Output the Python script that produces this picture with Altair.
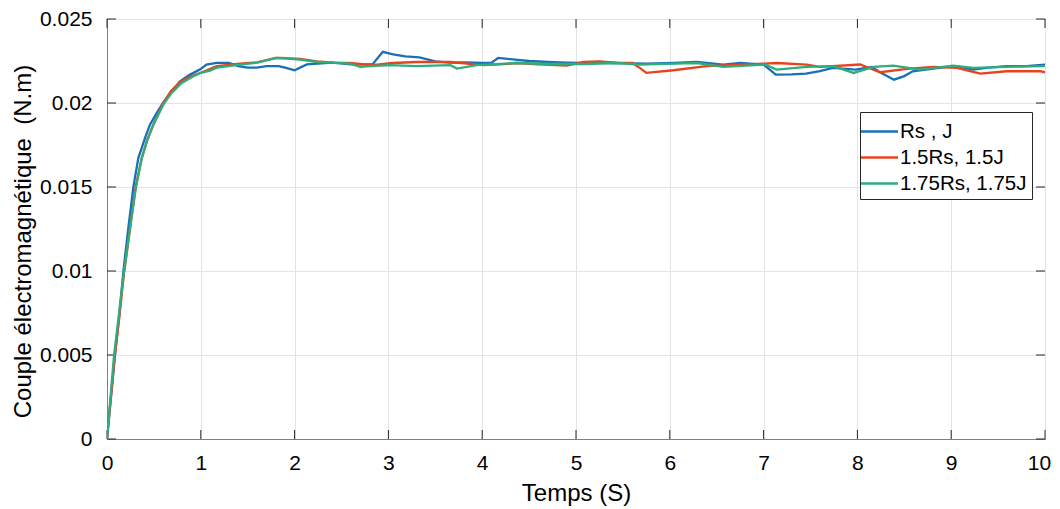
import altair as alt
import pandas as pd

# ---- data ----
series_names = ["Rs , J", "1.5Rs, 1.5J", "1.75Rs, 1.75J"]
series_colors = ["#1A6FB8", "#E8431E", "#2DAE7C"]

t_rs = [0, 0.085, 0.131, 0.174, 0.227, 0.281, 0.334, 0.405, 0.458, 0.529, 0.6, 0.689, 0.778, 0.885, 0.99,
        1.06, 1.17, 1.3, 1.4, 1.5, 1.6, 1.7, 1.83, 1.9, 2.0, 2.13, 2.4, 2.6, 2.83, 2.94, 3.05, 3.18, 3.33,
        3.5, 3.65, 3.82, 4.0, 4.1, 4.17, 4.35, 4.5, 4.7, 4.9, 5.06, 5.2, 5.4, 5.6, 5.76, 6.04, 6.29, 6.57,
        6.75, 7.0, 7.13, 7.3, 7.45, 7.6, 7.74, 7.98, 8.15, 8.25, 8.39, 8.5, 8.59, 8.75, 8.87, 9.05, 9.23,
        9.4, 9.59, 9.8, 10.0]
v_rs = [0, 0.00498, 0.00737, 0.00995, 0.01254, 0.01499, 0.01672, 0.01791, 0.01871, 0.0194, 0.02003, 0.02069,
        0.02129, 0.02169, 0.02199, 0.02229, 0.02239, 0.02239, 0.0222, 0.0221, 0.0221, 0.0222, 0.0222, 0.0221,
        0.02195, 0.0223, 0.0224, 0.0223, 0.0223, 0.02305, 0.0229, 0.02278, 0.02272, 0.02248, 0.0224, 0.02242,
        0.02238, 0.0224, 0.02268, 0.02258, 0.0225, 0.02244, 0.0224, 0.02238, 0.0224, 0.02238, 0.02236, 0.02234,
        0.02238, 0.02244, 0.02229, 0.02238, 0.02229, 0.02169, 0.0217, 0.02175, 0.0219, 0.02209, 0.02199,
        0.02215, 0.0218, 0.02139, 0.0216, 0.02189, 0.0220, 0.02209, 0.02219, 0.02199, 0.0221, 0.02219, 0.0222,
        0.02229]

t_15 = [0, 0.08, 0.13, 0.18, 0.245, 0.305, 0.37, 0.43, 0.494, 0.59, 0.68, 0.78, 0.9, 1.0, 1.17, 1.42, 1.6,
        1.8, 1.85, 2.06, 2.24, 2.41, 2.59, 2.77, 2.9, 3.05, 3.3, 3.66, 4.01, 4.19, 4.37, 4.6, 4.9, 5.08, 5.25,
        5.43, 5.6, 5.68, 5.75, 6.04, 6.39, 6.75, 7.01, 7.14, 7.46, 7.6, 8.03, 8.24, 8.53, 8.81, 9.06, 9.31,
        9.59, 9.95, 10.0]
v_15 = [0, 0.0048, 0.0072, 0.0098, 0.0125, 0.0150, 0.0167, 0.0178, 0.01871, 0.0199, 0.0207, 0.02125, 0.0216,
        0.0218, 0.0222, 0.02234, 0.02242, 0.02268, 0.02268, 0.02262, 0.02248, 0.0224, 0.02238, 0.02229,
        0.0223, 0.02238, 0.02244, 0.02244, 0.02225, 0.0223, 0.02238, 0.0223, 0.02223, 0.02244, 0.02248,
        0.0224, 0.02238, 0.02209, 0.02179, 0.02195, 0.02219, 0.02229, 0.02234, 0.02238, 0.02229, 0.02215,
        0.02229, 0.02183, 0.02203, 0.02215, 0.02209, 0.02175, 0.02189, 0.02189, 0.02183]

t_175 = [0, 0.075, 0.181, 0.245, 0.309, 0.37, 0.423, 0.494, 0.6, 0.689, 0.796, 0.92, 1.0, 1.1, 1.17, 1.42,
         1.6, 1.81, 2.06, 2.24, 2.4, 2.59, 2.7, 2.8, 3.02, 3.3, 3.66, 3.73, 3.94, 4.37, 4.72, 5.08, 5.43,
         5.68, 6.04, 6.29, 6.57, 7.01, 7.14, 7.46, 7.74, 7.96, 8.17, 8.38, 8.67, 9.02, 9.24, 9.59, 10.0]
v_175 = [0, 0.00498, 0.00995, 0.01254, 0.01499, 0.01672, 0.01771, 0.01871, 0.0199, 0.0206, 0.02119, 0.02159,
         0.0218, 0.02193, 0.0221, 0.02228, 0.0224, 0.02268, 0.02258, 0.02244, 0.0224, 0.02234, 0.02215,
         0.0222, 0.02225, 0.02219, 0.02225, 0.02205, 0.02225, 0.02238, 0.02232, 0.02232, 0.02238, 0.02229,
         0.02234, 0.02238, 0.02215, 0.02229, 0.02199, 0.02215, 0.02219, 0.02179, 0.02215, 0.02223, 0.02199,
         0.02223, 0.02209, 0.02215, 0.02219]

x_ticks = [0, 1, 2, 3, 4, 5, 6, 7, 8, 9, 10]
y_ticks = [0, 0.005, 0.01, 0.015, 0.02, 0.025]

W, H = 938, 420
FONT = "Liberation Sans"

rows = []
for i, (ts, vs) in enumerate([(t_rs, v_rs), (t_15, v_15), (t_175, v_175)]):
    for j, (t, v) in enumerate(zip(ts, vs)):
        rows.append({"t": t, "v": v, "series": series_names[i], "idx": j})
df = pd.DataFrame(rows)

xscale = alt.Scale(domain=[0, 10], nice=False, zero=False)
yscale = alt.Scale(domain=[0, 0.025], nice=False, zero=False)

lines = alt.Chart(df).mark_line(strokeWidth=2.3, clip=True).encode(
    x=alt.X("t:Q", scale=xscale,
            axis=alt.Axis(values=x_ticks, title="Temps (S)", format="~g", grid=True,
                          gridColor="#E3E3E3", ticks=False, labelPadding=13, labelFlush=False,
                          labelBound=False, domainColor="#808080", titlePadding=8,
                          labelOffset={"condition": {"test": "datum.value == 10", "value": -6},
                                       "value": 0})),
    y=alt.Y("v:Q", scale=yscale,
            axis=alt.Axis(values=y_ticks, title="Couple électromagnétique\u00a0 (N.m)", format="~g",
                          grid=True, gridColor="#E3E3E3", ticks=False, labelPadding=15,
                          labelFlush=False, labelBound=False,
                          domainColor="#808080", titlePadding=4, titleY=222, titleFontSize=24)),
    color=alt.Color("series:N", scale=alt.Scale(domain=series_names, range=series_colors),
                    legend=alt.Legend(title=None, orient="none", legendX=753, legendY=93,
                                      symbolType="M-1.4,0L1.4,0", symbolSize=700, symbolStrokeWidth=2.5,
                                      labelFontSize=20.5, labelFont=FONT, labelColor="#000000",
                                      strokeColor="#262626", fillColor="#ffffff", padding=5,
                                      rowPadding=1, labelOffset=6, labelLimit=300)),
    detail="series:N",
    order=alt.Order("idx:Q"),
)

tick_df = pd.DataFrame({"xt": x_ticks})
ytick_df = pd.DataFrame({"yt": y_ticks})

xt_bottom = alt.Chart(tick_df).mark_rule(color="#262626", strokeWidth=1).encode(
    x=alt.X("xt:Q", scale=xscale), y=alt.value(H), y2=alt.value(H - 9))
xt_top = alt.Chart(tick_df).mark_rule(color="#262626", strokeWidth=1).encode(
    x=alt.X("xt:Q", scale=xscale), y=alt.value(0), y2=alt.value(9))
yt_left = alt.Chart(ytick_df).mark_rule(color="#262626", strokeWidth=1).encode(
    y=alt.Y("yt:Q", scale=yscale), x=alt.value(0), x2=alt.value(9))
yt_right = alt.Chart(ytick_df).mark_rule(color="#262626", strokeWidth=1).encode(
    y=alt.Y("yt:Q", scale=yscale), x=alt.value(W), x2=alt.value(W - 9))

chart = alt.layer(xt_bottom, xt_top, yt_left, yt_right, lines).properties(
    width=W, height=H,
    background="#ffffff",
    autosize=alt.AutoSizeParams(type="none"),
    padding={"left": 99, "top": 11, "right": 7, "bottom": 70},
).configure_view(
    stroke="#262626", strokeWidth=1
).configure_axis(
    labelFont=FONT, labelFontSize=21, labelColor="#000000",
    titleFont=FONT, titleFontSize=24, titleColor="#000000", titleFontWeight="normal",
)

chart.save("out.html", embed_options={"renderer": "svg", "actions": False})
